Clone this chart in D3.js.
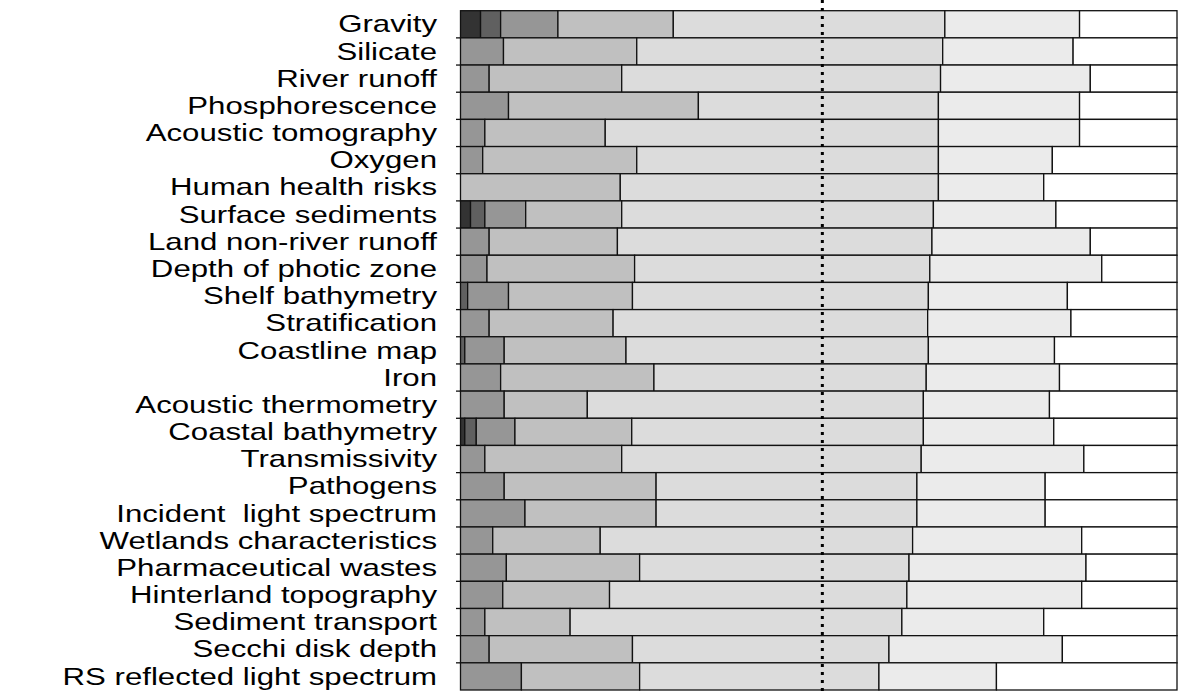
<!DOCTYPE html>
<html><head><meta charset="utf-8">
<script src="https://cdn.jsdelivr.net/npm/d3@7"></script>
<style>body{margin:0;background:#fff}svg{display:block}</style>
</head><body>
<svg id="chart" width="1179" height="693"></svg>
<script>
const categories = ["Gravity","Silicate","River runoff","Phosphorescence","Acoustic tomography","Oxygen","Human health risks","Surface sediments","Land non-river runoff","Depth of photic zone","Shelf bathymetry","Stratification","Coastline map","Iron","Acoustic thermometry","Coastal bathymetry","Transmissivity","Pathogens","Incident  light spectrum","Wetlands characteristics","Pharmaceutical wastes","Hinterland topography","Sediment transport","Secchi disk depth","RS reflected light spectrum"];
const level1 = [2.8,0,0,0,0,0,0,1.4,0,0,0,0,0,0,0,0.6,0,0,0,0,0,0,0,0,0];
const level2 = [2.8,0,0,0,0,0,0,2.0,0,0,1.0,0,0.6,0,0,1.6,0,0,0,0,0,0,0,0,0];
const level3 = [8.0,6.0,4.0,6.7,3.4,3.1,0,5.7,4.0,3.7,5.7,4.0,5.5,5.6,6.1,5.4,3.4,6.1,9.0,4.5,6.4,5.9,3.4,4.0,8.5];
const level4 = [16.1,18.6,18.5,26.5,16.8,21.5,22.3,13.4,17.9,20.6,17.3,17.3,17.0,21.4,11.6,16.3,19.1,21.2,18.3,15.0,18.6,14.9,11.9,20.0,16.5];
const level5 = [37.9,42.7,44.5,33.5,46.5,42.1,44.4,43.5,43.9,41.2,41.3,43.9,42.2,38.0,46.9,40.7,41.8,36.4,36.4,43.6,37.6,41.5,46.3,35.8,33.4];
const level6 = [18.8,18.2,20.9,19.7,19.7,15.9,14.7,17.1,22.1,24.0,19.4,20.0,17.6,18.6,17.6,18.2,22.7,17.9,17.9,23.6,24.7,24.4,19.8,24.2,16.4];
const level7 = [13.6,14.5,12.1,13.6,13.6,17.4,18.6,16.9,12.1,10.5,15.3,14.8,17.1,16.4,17.8,17.2,13.0,18.4,18.4,13.3,12.7,13.3,18.6,16.0,25.2];
const levelColors = ["#333333","#606060","#969696","#c0c0c0","#dcdcdc","#ebebeb","#ffffff"];
const referenceValue = 50.5;

const levels = [level1,level2,level3,level4,level5,level6,level7];
const svg = d3.select("#chart");
const x = d3.scaleLinear().domain([0,100]).range([460.5,1177]);
const y = d3.scaleBand().domain(categories).range([10.7,690]).padding(0);

const rows = categories.map((c,i)=>{
  let acc=0;
  return levels.map((lv,k)=>{const s={cat:c,k,x0:acc,x1:acc+lv[i]}; acc+=lv[i]; return s;});
});

const g = svg.append("g");
rows.forEach(r=>{
  g.selectAll(null).data(r.filter(s=>s.x1-s.x0>0)).enter().append("rect")
    .attr("x",d=>x(d.x0)).attr("width",d=>x(d.x1)-x(d.x0))
    .attr("y",d=>y(d.cat)).attr("height",y.bandwidth())
    .attr("fill",d=>levelColors[d.k])
    .attr("stroke","#111").attr("stroke-width",1.3);
});

// ticks at band boundaries
const bounds = categories.slice(1).map(c=>y(c));
svg.selectAll(".tk").data(bounds).enter().append("line")
  .attr("x1",456).attr("x2",460.5).attr("y1",d=>d).attr("y2",d=>d)
  .attr("stroke","#111").attr("stroke-width",1.3);

// labels
svg.selectAll(".lbl").data(categories).enter().append("text")
  .attr("transform",d=>`translate(437,${y(d)+y.bandwidth()/2}) scale(1.3,1)`)
  .attr("dy","0.34em").attr("text-anchor","end")
  .attr("font-family","Liberation Sans, Arial, sans-serif").attr("font-size",24)
  .attr("fill","#000").style("white-space","pre").text(d=>d);

// reference dotted line
svg.append("line").attr("x1",x(referenceValue)).attr("x2",x(referenceValue))
  .attr("y1",0).attr("y2",693).attr("stroke","#000").attr("stroke-width",3)
  .attr("stroke-dasharray","3,5");
</script>
</body></html>
